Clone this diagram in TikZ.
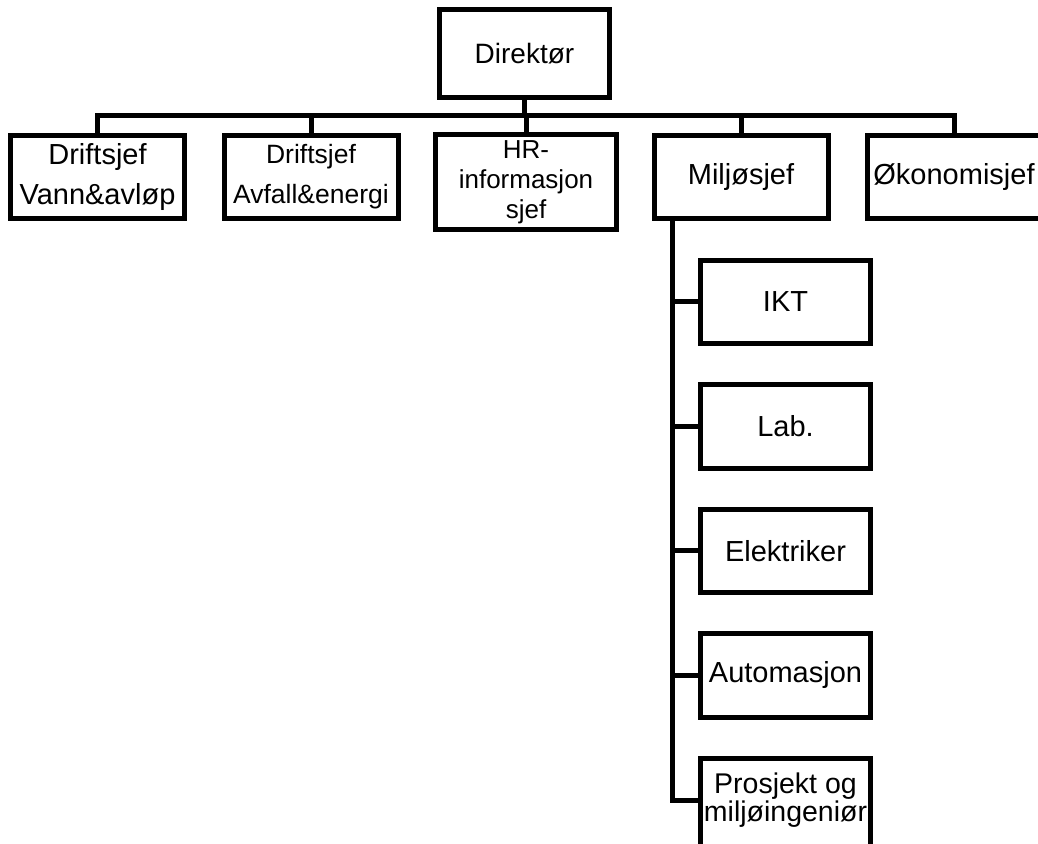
\documentclass[tikz,border=0pt]{standalone}
\usepackage{fontspec}
\setmainfont{Liberation Sans}
\usetikzlibrary{positioning}
\begin{document}
\begin{tikzpicture}[x=1pt,y=1pt,node distance=124.5pt]
\tikzset{post/.style={rectangle, draw, line width=5pt, minimum width=174pt, minimum height=83.5pt, inner sep=0pt, align=center, font=\fontsize{29}{40}\selectfont}}
\tikzset{link/.style={line width=5pt}}
\useasboundingbox (0,0) rectangle (1038,843);
% top and second level
\node[post, minimum width=170.5pt, minimum height=88.5pt, font=\fontsize{28}{34}\selectfont] (dir) at (524.5,789.5) {Direktør};
\node[post, minimum width=174.5pt] (d1) at (97.5,666) {Driftsjef\\Vann\&avløp};
\node[post, font=\fontsize{26.5}{40}\selectfont] (d2) at (311,666) {Driftsjef\\Avfall\&energi};
\node[post, minimum width=181.5pt, minimum height=95.5pt, font=\fontsize{26}{30}\selectfont] (hr) at (526,661) {HR-\\informasjon\\sjef};
\node[post] (mil) at (741,666) {Miljøsjef};
\node[post] (ok) at (954,666) {Økonomisjef};
% under Miljøsjef
\node[post, minimum width=170.5pt] (ikt) at (785.5,541) {IKT};
\node[post, minimum width=170.5pt, below of = ikt] (lab) {Lab.};
\node[post, minimum width=170.5pt, below of = lab] (el) {Elektriker};
\node[post, minimum width=170.5pt, below of = el] (auto) {Automasjon};
\node[post, minimum width=170.5pt, minimum height=100pt, yshift=-8.25pt, below of = auto, font=\fontsize{28.5}{28}\selectfont] (proj) {Prosjekt og\\miljøingeniør\rule[-22.5pt]{0pt}{22.5pt}};
\coordinate (bus) at (524.5,727);
\coordinate (spine) at (672,0);
\draw[link] (dir.south) -- (dir.south |- bus);
\draw[link] (d1.north) |- (bus) -| (ok.north);
\foreach \n in {d2,hr,mil}
  \draw[link] (\n.north) -- (\n.north |- bus);
\draw[link] (mil.south -| spine) |- ([yshift=8.25pt]proj.west);
\foreach \n in {ikt,lab,el,auto}
  \draw[link] (\n.west) -- (\n.west -| spine);
\end{tikzpicture}
\end{document}
